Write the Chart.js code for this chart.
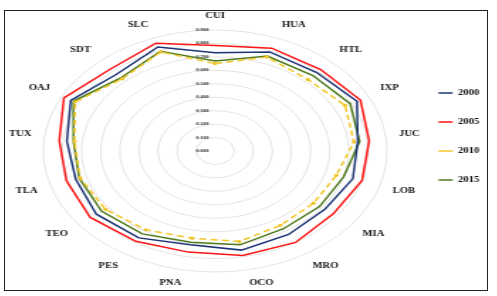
<!DOCTYPE html>
<html lang="es">
<head>
    <meta charset="UTF-8">
    <title>Radar 2000-2015</title>
    <script src="https://cdn.jsdelivr.net/npm/chart.js"></script>
    <style>
        body {
            margin: 0;
            background-color: #fff;
        }
        .marco {
            position: absolute;
            left: 4px;
            top: 10px;
            width: 482px;
            height: 279px;
            border: 1px solid #222;
            overflow: hidden;
        }
        .estirado {
            position: absolute;
            left: 0;
            top: 0;
            width: 339px;
            height: 279px;
            transform: scaleX(1.42);
            transform-origin: 0 0;
        }
    </style>
</head>
<body>

<div class="marco">
    <div class="estirado">
        <canvas id="grafico"></canvas>
    </div>
</div>

<script>
    // Municipios (en el orden del grafico, empezando arriba y en sentido horario)
    const municipios = ['CUI', 'HUA', 'HTL', 'IXP', 'JUC', 'LOB', 'MIA', 'MRO', 'OCO',
                        'PNA', 'PES', 'TEO', 'TLA', 'TUX', 'OAJ', 'SDT', 'SLC'];

    const anios = ['2000', '2005', '2010', '2015'];

    const valores2000 = [0.730, 0.790, 0.790, 0.830, 0.750, 0.750, 0.720, 0.730, 0.750,
                         0.710, 0.760, 0.780, 0.760, 0.780, 0.845, 0.770, 0.830];
    const valores2005 = [0.785, 0.820, 0.820, 0.850, 0.810, 0.800, 0.775, 0.800, 0.790,
                         0.765, 0.790, 0.820, 0.810, 0.820, 0.885, 0.820, 0.860];
    const valores2010 = [0.650, 0.750, 0.720, 0.760, 0.730, 0.660, 0.645, 0.650, 0.685,
                         0.660, 0.690, 0.720, 0.735, 0.740, 0.820, 0.725, 0.790];
    const valores2015 = [0.670, 0.757, 0.760, 0.790, 0.760, 0.700, 0.685, 0.680, 0.710,
                         0.690, 0.725, 0.745, 0.740, 0.745, 0.830, 0.735, 0.795];

    const serif = "'Liberation Serif', 'Times New Roman', serif";

    // la leyenda queda mas arriba y mas cerca del grafico que lo que da Chart.js
    const moverLeyenda = {
        id: 'moverLeyenda',
        afterLayout(chart) {
            let l = chart.legend;
            l.left -= 12.5;
            l.right -= 12.5;
            l.top -= 15.5;
            l.bottom -= 15.5;
        }
    };

    let ctx = document.getElementById('grafico').getContext('2d');

    let chart = new Chart(ctx, {
        type: 'radar',
        data: {
            labels: municipios,
            datasets: [{
                label: anios[0],
                data: valores2000,
                borderColor: '#1d3577',
                backgroundColor: '#1d3577',
                borderWidth: 1.5,
                pointRadius: 0,
                pointBorderWidth: 1.5,
                fill: false
            }, {
                label: anios[1],
                data: valores2005,
                borderColor: '#ff1414',
                backgroundColor: '#ff1414',
                borderWidth: 1.5,
                pointRadius: 0,
                pointBorderWidth: 1.5,
                fill: false
            }, {
                label: anios[2],
                data: valores2010,
                borderColor: '#f2c62a',
                backgroundColor: '#a8a8a8',
                borderWidth: 1.5,
                borderDash: [5, 3],
                pointRadius: 0.9,
                pointBorderColor: '#f2c62a',
                pointBorderWidth: 1.5,
                fill: false
            }, {
                label: anios[3],
                data: valores2015,
                borderColor: '#4f7a1e',
                backgroundColor: '#4f7a1e',
                borderWidth: 1.5,
                pointRadius: 0,
                pointBorderWidth: 1.5,
                fill: false
            }]
        },
        options: {
            responsive: true,
            maintainAspectRatio: false,
            animation: false,
            layout: {
                padding: { left: -3, right: -17.5, top: -2, bottom: -5 }
            },
            elements: {
                line: { tension: 0 }
            },
            scales: {
                r: {
                    min: -0.0000001,   // asi se dibuja tambien la etiqueta 0.000
                    max: 0.9,
                    ticks: {
                        stepSize: 0.1,
                        showLabelBackdrop: false,
                        color: '#222',
                        font: { family: serif, size: 4, weight: 'bold' },
                        callback: function (v) {
                            // espacios para correr la etiqueta a la izquierda del eje
                            return Math.max(0, v).toFixed(3) + '\u2002\u2002\u2002\u2002\u2002\u2002\u2002\u2002\u2002';
                        }
                    },
                    grid: {
                        circular: true,
                        color: '#e4e4e4',
                        lineWidth: 1
                    },
                    angleLines: { display: false },
                    pointLabels: {
                        color: '#111',
                        padding: 5,
                        font: { family: serif, size: 7.5, weight: 'bold' }
                    }
                }
            },
            plugins: {
                legend: {
                    position: 'right',
                    labels: {
                        color: '#111',
                        usePointStyle: true,
                        pointStyle: 'line',
                        pointStyleWidth: 10,
                        padding: 21.5,
                        font: { family: serif, size: 7.5, weight: 'bold' }
                    }
                },
                tooltip: { enabled: false }
            }
        },
        plugins: [moverLeyenda]
    });
</script>

</body>
</html>
